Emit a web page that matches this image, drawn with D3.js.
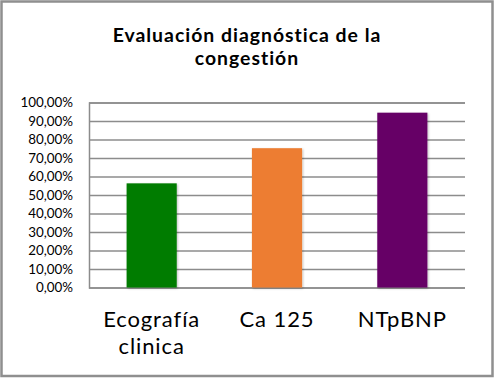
<!DOCTYPE html>
<html>
<head>
<meta charset="utf-8">
<script src="https://cdn.jsdelivr.net/npm/d3@7"></script>
<style>
  body { margin: 0; background: #fff; }
  text { font-family: Lato, "Open Sans", sans-serif; font-variant-ligatures: none; }
</style>
</head>
<body>
<div id="chart"></div>
<script>
var w = 495,
	h = 378;

// data
var categories = [["Ecografía", "clinica"], ["Ca 125"], ["NTpBNP"]];
var values = [0.563, 0.753, 0.945];
var barColors = ["#007C00", "#ED7D31", "#660066"];
var ticks = [0, 0.1, 0.2, 0.3, 0.4, 0.5, 0.6, 0.7, 0.8, 0.9, 1.0];
var titleLines = ["Evaluación diagnóstica de la", "congestión"];

var svg = d3.select("#chart").append("svg")
	.attr("width", w)
	.attr("height", h);

var defs = svg.append("defs");
var f = defs.append("filter").attr("id", "shadow")
	.attr("x", "-20%").attr("y", "-20%").attr("width", "140%").attr("height", "140%");
f.append("feDropShadow")
	.attr("dx", 1).attr("dy", 1).attr("stdDeviation", 1.2)
	.attr("flood-color", "#000").attr("flood-opacity", 0.25);

// outer frame
svg.append("rect")
	.attr("x", 1.5).attr("y", 1.5)
	.attr("width", 491).attr("height", 374.5)
	.attr("fill", "#fff")
	.attr("stroke", "#8f8f8f")
	.attr("stroke-width", 2.5);

// title, one text per line
svg.append("g").selectAll("text")
	.data(titleLines)
	.enter()
	.append("text")
	.attr("text-anchor", "middle")
	.attr("font-size", "19.4px")
	.attr("font-weight", "bold")
	.attr("letter-spacing", "1px")
	.attr("fill", "#000")
	.attr("x", 247)
	.attr("y", function(d, i){ return 41.7 + i * 23.4; })
	.text(function(d){ return d; });

var x = d3.scaleBand()
	.domain(d3.range(categories.length))
	.range([89, 465])
	.paddingInner(0.6)
	.paddingOuter(0.3);

var y = d3.scaleLinear()
	.domain([0, 1])
	.range([287.5, 102.5]);

var fmt = function(v){ return (v * 100).toFixed(2).replace(".", ",") + "%"; };

// gridlines + labels
var yAxis = svg.append("g")
	.attr("transform", "translate(89,0)")
	.call(d3.axisLeft(y).tickValues(ticks).tickSize(-(465 - 89)).tickPadding(16).tickFormat(fmt));
yAxis.select(".domain").attr("stroke", "#8c8c8c").attr("stroke-width", 1.5);
yAxis.selectAll(".tick line").attr("stroke", "#8c8c8c").attr("stroke-width", 1.5);
yAxis.selectAll(".tick text")
	.attr("font-size", "13.4px")
	.attr("fill", "#000")
	.style("font-family", "Lato, sans-serif");

// bars
svg.append("g").selectAll("rect")
	.data(values)
	.enter()
	.append("rect")
	.attr("x", function(d, i){ return x(i); })
	.attr("y", function(d){ return y(d); })
	.attr("width", x.bandwidth())
	.attr("height", function(d){ return y(0) - y(d); })
	.attr("fill", function(d, i){ return barColors[i]; })
	.attr("filter", "url(#shadow)");

// category labels, one text per line
var labLines = [];
categories.forEach(function(c, i){
	c.forEach(function(s, j){ labLines.push({s: s, i: i, j: j}); });
});
svg.append("g").selectAll("text")
	.data(labLines)
	.enter()
	.append("text")
	.attr("text-anchor", "middle")
	.attr("font-size", "22px")
	.attr("letter-spacing", "0.9px")
	.attr("fill", "#000")
	.attr("x", function(d){ return x(d.i) + x.bandwidth() / 2; })
	.attr("y", function(d){ return 327 + d.j * 26.7; })
	.text(function(d){ return d.s; });
</script>
</body>
</html>
